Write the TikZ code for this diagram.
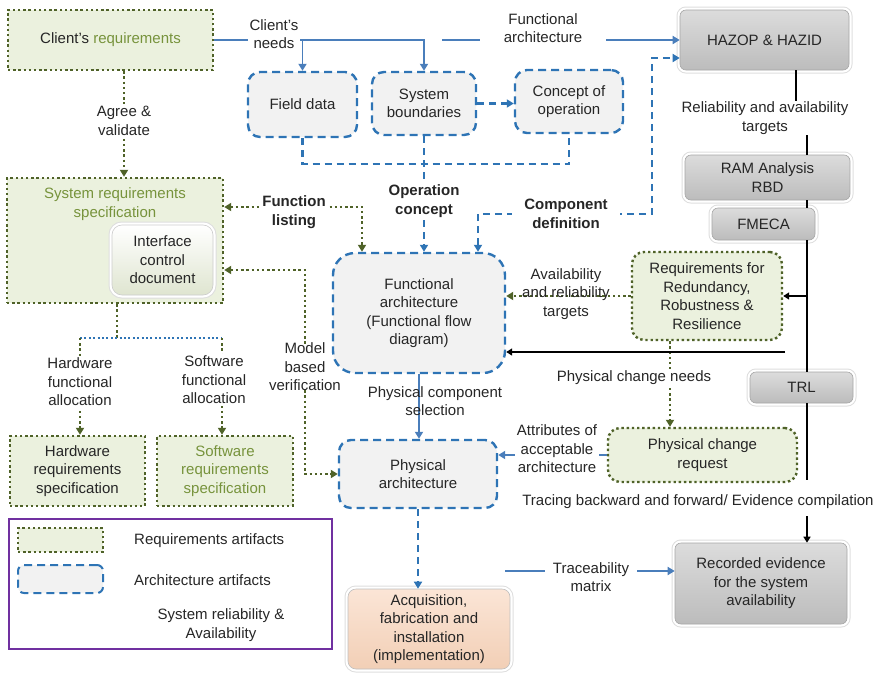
\documentclass[tikz,border=0pt]{standalone}
\usepackage{fontspec}
\setmainfont{Liberation Sans}
\usetikzlibrary{arrows.meta}

\definecolor{txt}{HTML}{262626}
\definecolor{gdk}{HTML}{4F6228}
\definecolor{gfill}{HTML}{EBF1DE}
\definecolor{gtext}{HTML}{77933C}
\definecolor{bdk}{HTML}{2E74B5}
\definecolor{bfill}{HTML}{F2F2F2}
\definecolor{bln}{HTML}{4A7EBB}
\definecolor{gtop}{HTML}{DCDCDC}
\definecolor{gbot}{HTML}{BCBCBC}
\definecolor{ptop}{HTML}{FBE5D6}
\definecolor{pbot}{HTML}{F2CFB6}
\definecolor{itop}{HTML}{FFFFFF}
\definecolor{ibot}{HTML}{DFE5D0}
\definecolor{legendc}{HTML}{7030A0}

\tikzset{
  every node/.style={font=\fontsize{15}{18.5}\selectfont, text=txt, align=center, inner sep=1pt},
  gbox/.style={draw=gdk, fill=gfill, line width=2.4pt, dash pattern=on 2.4pt off 2.8pt},
  bbox/.style={draw=bdk, fill=bfill, line width=2.4pt, dash pattern=on 8pt off 5pt, rounded corners=12pt},
  halo/.style={preaction={draw=black!13, line width=7pt},
               preaction={draw=white, line width=5pt}},
  graybox/.style={halo, rounded corners=6pt, top color=gtop, bottom color=gbot,
                  draw=black!35, line width=0.6pt},
  peachbox/.style={halo, rounded corners=8pt, top color=ptop, bottom color=pbot,
                   draw=black!25, line width=0.6pt},
  icdbox/.style={halo, rounded corners=10pt, top color=itop, bottom color=ibot,
                 draw=black!20, line width=0.6pt},
  gdot/.style={draw=gdk, line width=2.4pt, dash pattern=on 2.4pt off 2.8pt},
  bdot/.style={draw=bdk, line width=2pt, dash pattern=on 2pt off 2.4pt},
  bdash/.style={draw=bdk, line width=2.2pt, dash pattern=on 7pt off 5pt},
  bline/.style={draw=bln, line width=1.8pt},
  blk/.style={draw=black, line width=1.8pt, >={Triangle[length=6pt,width=7pt]}},
  lbl/.style={fill=white, inner sep=2pt},
  bold/.style={font=\fontsize{15}{18.5}\selectfont\bfseries}
}

\begin{document}
\begin{tikzpicture}[x=1pt, y=-1pt, >={Triangle[length=7pt,width=8pt]}]
\useasboundingbox (0,0) rectangle (879,675);

% ---------- requirements side ----------
\node[gbox, minimum width=205pt, minimum height=60pt] (creq) at (110.5,40)
  {Client's \textcolor{gtext}{requirements}};
\node[gbox, minimum width=216pt, minimum height=125pt] (sysreq) at (115,240.5) {};
\node[text=gtext] (sysreqt) at (115,204) {System requirements\\specification};
\node[icdbox, minimum width=101pt, minimum height=70pt] (icd) at (162.5,260)
  {Interface\\control\\document};
\node[gbox, minimum width=135pt, minimum height=70pt] (hwreq) at (77.5,471)
  {Hardware\\requirements\\specification};
\node[gbox, minimum width=136pt, minimum height=70pt, text=gtext] (swreq) at (225,471)
  {Software\\requirements\\specification};

% ---------- architecture side ----------
\node[bbox, minimum width=109pt, minimum height=65pt] (field) at (302.5,104.5) {Field data};
\node[bbox, minimum width=104pt, minimum height=63pt] (sysb) at (424,103.5) {System\\boundaries};
\node[bbox, minimum width=108pt, minimum height=63pt] (conop) at (569,101.5) {Concept of\\operation};
\node[bbox, rounded corners=22pt, minimum width=172pt, minimum height=120pt] (funca) at (419,313)
  {Functional\\architecture\\(Functional flow\\diagram)};
\node[bbox, minimum width=158pt, minimum height=68pt] (phys) at (418,474) {Physical\\architecture};
\node[peachbox, minimum width=162pt, minimum height=80pt] (acq) at (429,629)
  {Acquisition,\\fabrication and\\installation\\(implementation)};

% ---------- reliability column ----------
\node[graybox, minimum width=169pt, minimum height=60pt] (hazop) at (764.5,40) {HAZOP \& HAZID};
\node[graybox, minimum width=165pt, minimum height=45pt] (ram) at (767.5,177.5) {RAM Analysis\\RBD};
\node[graybox, minimum width=103pt, minimum height=32pt] (fmeca) at (763.5,224) {FMECA};
\node[gbox, rounded corners=12pt, minimum width=150pt, minimum height=88pt] (rrr) at (707,296)
  {Requirements for\\Redundancy,\\Robustness \&\\Resilience};
\node[graybox, minimum width=103pt, minimum height=31pt] (trl) at (801.5,387.5) {TRL};
\node[gbox, rounded corners=12pt, minimum width=189pt, minimum height=54pt] (pcr) at (702.5,455)
  {Physical change\\request};
\node[graybox, minimum width=172pt, minimum height=81pt] (rec) at (761,583.5)
  {Recorded evidence\\for the system\\availability};

% ---------- legend ----------
\node[draw=legendc, line width=1.5pt, minimum width=323pt, minimum height=130pt] (leg) at (170.5,584) {};
\node[gbox, line width=2pt, minimum width=85pt, minimum height=24pt] (lreq) at (60.5,540) {};
\node[anchor=west] (lreqt) at (133,541) {Requirements artifacts};
\node[bbox, line width=2pt, rounded corners=6pt, minimum width=85pt, minimum height=28pt] (larc) at (60.5,579) {};
\node[anchor=west] (larct) at (133,580) {Architecture artifacts};
\node (lsys) at (221,625) {System reliability \&\\Availability};

% ---------- client's needs ----------
\draw[bline,->] (creq.east) -- (field.north |- creq.east) -- (field.north);
\draw[bline,->] (field.north |- creq.east) -- (sysb.north |- creq.east) -- (sysb.north);
\node[lbl] (cneed) at (274,34) {Client's\\needs};

% ---------- functional architecture to HAZOP ----------
\coordinate (fa0) at (442,40);
\draw[bline,->] (fa0) -- (fa0 -| hazop.west);
\node[lbl, minimum width=126pt] (fatxt) at (543,28) {Functional\\architecture};

% ---------- concept of operation ----------
\draw[bdash,->] (sysb.east) -- (sysb.east -| conop.west);
\draw[bdash] (field.south) -- ++(0,26) -| (conop.south);
\draw[bdash,->] (sysb.south) -- (sysb.south |- funca.north);
\node[lbl, bold] (opc) at (424,201) {Operation\\concept};

% ---------- component definition ----------
\coordinate (cd1) at (478,214);
\coordinate (cd2) at (652,214);
\coordinate (hz) at (680,58);
\draw[bdash,<->] (cd1 |- funca.north) -- (cd1) -- (cd2) -- (cd2 |- hz) -- (hz -| hazop.west);
\node[lbl, bold, minimum width=108pt] (cdef) at (566,214) {Component\\definition};

% ---------- function listing ----------
\coordinate (fl) at (362,207);
\draw[gdot,<->] (fl -| sysreq.east) -- (fl) -- (fl |- funca.north);
\node[lbl, bold] (flist) at (294,212) {Function\\listing};

% ---------- model based verification ----------
\coordinate (mb) at (305,270);
\node (mbv) at (305,367) {Model\\based\\verification};
\draw[gdot,<-] (mb -| sysreq.east) -- (mb) -- ([yshift=-2pt]mbv.north -| mb);
\draw[gdot,->] ([yshift=2pt]mbv.south -| mb) -- (mb |- phys.west) -- (phys.west);

% ---------- agree & validate ----------
\coordinate (av) at (124,0);
\draw[gdot,->] (creq.south -| av) -- (sysreq.north -| av);
\node[lbl] (agv) at (124,121) {Agree \&\\validate};

% ---------- functional allocation ----------
\coordinate (al) at (117,0);
\coordinate (hl) at (80,338);
\coordinate (sl) at (222,338);
\draw[gdot] (sysreq.south -| al) -- (al |- hl);
\draw[bdot] (hl) -- (sl);
\draw[gdot,->] (hl) -- (hl |- hwreq.north);
\draw[gdot,->] (sl) -- (sl |- swreq.north);
\node[lbl] (hfa) at (80,382) {Hardware\\functional\\allocation};
\node[lbl] (sfa) at (214,380) {Software\\functional\\allocation};

% ---------- availability targets ----------
\draw[gdot,->] (rrr.west) -- (rrr.west -| funca.east);
\node (art) at (566,294) {Availability\\and reliability\\targets};

% ---------- physical change needs ----------
\coordinate (pcn) at (670,0);
\draw[gdot,->] (rrr.south -| pcn) -- (pcr.north -| pcn);
\node[lbl] (pcnt) at (634,378) {Physical change needs};

% ---------- physical component selection ----------
\draw[bline,->] (funca.south) -- (funca.south |- phys.north);
\node (pcs) at (435,401) {Physical component\\selection};

% ---------- attributes ----------
\draw[bline,->] (pcr.west) -- (pcr.west -| phys.east);
\node[lbl] (attr) at (557,449) {Attributes of\\acceptable\\architecture};

% ---------- implementation ----------
\draw[bdash,->] (phys.south) -- (phys.south |- acq.north);

% ---------- traceability ----------
\coordinate (tm) at (505,571);
\draw[bline,->] (tm) -- (tm -| rec.west);
\node[lbl, inner xsep=8pt] (trm) at (591,577) {Traceability\\matrix};

% ---------- reliability spine ----------
\coordinate (sa) at (796,0);
\coordinate (sb) at (807,0);
\node (rat) at (765,118) {Reliability and availability\\targets};
\draw[blk] (hazop.south -| sa) -- (rat.north -| sa);
\draw[blk] (rat.south -| sb) -- (ram.north -| sb);
\draw[blk] (ram.south -| sb) -- (fmeca.north -| sb);
\draw[blk] (fmeca.south -| sb) -- (trl.north -| sb);
\draw[blk,->] (rrr.east -| sb) -- (rrr.east);
\node (trace) at (698,502) {Tracing backward and forward/ Evidence compilation};
\draw[blk, shorten >=14pt] (trl.south -| sb) -- (trace.north -| sb);
\draw[blk,->, shorten <=6pt] (trace.south -| sb) -- (rec.north -| sb);
\coordinate (bk) at (785,352);
\draw[blk,->] (bk) -- (bk -| funca.east);

\end{tikzpicture}
\end{document}
